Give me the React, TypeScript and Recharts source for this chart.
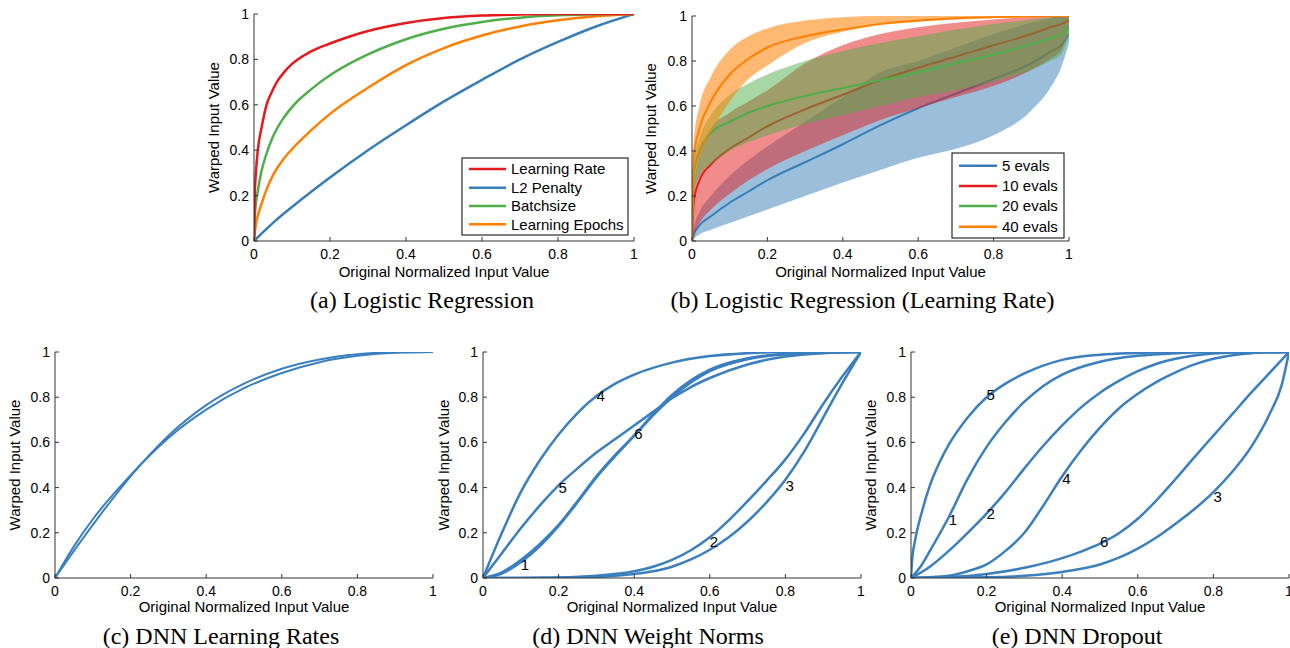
import React from 'react';
import { ComposedChart, Line, Area, XAxis, YAxis, ReferenceDot } from 'recharts';

const FONT = '"Liberation Sans", Arial, Helvetica, sans-serif';
const SERIF = '"Liberation Serif", "Times New Roman", serif';
const AXIS = '#333333';
const BLUE = '#377eb8';
const RED = '#e41a1c';
const GREEN = '#4daf4a';
const ORANGE = '#ff7f00';
const LINE_BLUE = '#3a7fbf';

type Pt = [number, number];

const TICKS = [0, 0.2, 0.4, 0.6, 0.8, 1];

// ---------- (a) Logistic Regression ----------
const aLearningRate: Pt[] = [[0, 0], [0.002, 0.2], [0.005, 0.3], [0.01, 0.4], [0.02, 0.5], [0.033, 0.6], [0.045, 0.65], [0.06, 0.7], [0.08, 0.745], [0.1, 0.78], [0.15, 0.835], [0.2, 0.87], [0.25, 0.9], [0.3, 0.925], [0.4, 0.96], [0.5, 0.982], [0.6, 0.993], [0.7, 0.998], [0.8, 1], [1, 1]];
const aL2Penalty: Pt[] = [[0, 0], [0.05, 0.08], [0.1, 0.15], [0.2, 0.28], [0.3, 0.4], [0.4, 0.51], [0.5, 0.615], [0.6, 0.71], [0.7, 0.8], [0.8, 0.877], [0.9, 0.945], [1, 1]];
const aBatchsize: Pt[] = [[0, 0], [0.003, 0.13], [0.01, 0.22], [0.02, 0.31], [0.03, 0.37], [0.05, 0.46], [0.075, 0.535], [0.1, 0.59], [0.15, 0.668], [0.2, 0.73], [0.25, 0.78], [0.3, 0.822], [0.35, 0.858], [0.4, 0.889], [0.5, 0.935], [0.6, 0.965], [0.7, 0.984], [0.8, 0.994], [0.9, 0.999], [1, 1]];
const aEpochs: Pt[] = [[0, 0], [0.005, 0.075], [0.01, 0.11], [0.02, 0.165], [0.035, 0.235], [0.05, 0.29], [0.075, 0.355], [0.1, 0.405], [0.15, 0.487], [0.2, 0.56], [0.3, 0.675], [0.4, 0.775], [0.5, 0.85], [0.6, 0.905], [0.7, 0.945], [0.8, 0.972], [0.9, 0.99], [1, 1]];

// ---------- (b) Logistic Regression (Learning Rate) ----------
const xB = [0, 0.005, 0.02, 0.05, 0.1, 0.15, 0.2, 0.3, 0.4, 0.5, 0.6, 0.7, 0.8, 0.9, 0.95, 0.98, 1];
const e5Lo = [0, 0.01, 0.03, 0.05, 0.08, 0.11, 0.14, 0.2, 0.26, 0.316, 0.37, 0.41, 0.47, 0.58, 0.68, 0.775, 0.88];
const e5Mid = [0, 0.03, 0.07, 0.11, 0.17, 0.22, 0.27, 0.35, 0.43, 0.515, 0.59, 0.655, 0.72, 0.79, 0.84, 0.87, 0.92];
const e5Hi = [0, 0.06, 0.13, 0.2, 0.29, 0.36, 0.42, 0.53, 0.64, 0.75, 0.8, 0.86, 0.92, 0.97, 0.99, 1, 1];
const e10Lo = [0, 0.03, 0.08, 0.14, 0.21, 0.27, 0.32, 0.4, 0.47, 0.538, 0.59, 0.64, 0.69, 0.76, 0.81, 0.85, 0.95];
const e10Mid = [0, 0.18, 0.27, 0.34, 0.41, 0.46, 0.51, 0.585, 0.65, 0.715, 0.77, 0.82, 0.87, 0.92, 0.95, 0.965, 0.98];
const e10Hi = [0, 0.25, 0.38, 0.5, 0.57, 0.62, 0.67, 0.79, 0.87, 0.92, 0.95, 0.97, 0.985, 0.995, 1, 1, 1];
const e20Lo = [0, 0.22, 0.29, 0.34, 0.4, 0.44, 0.47, 0.52, 0.56, 0.6, 0.64, 0.67, 0.71, 0.76, 0.8, 0.83, 0.92];
const e20Mid = [0, 0.3, 0.4, 0.48, 0.53, 0.57, 0.6, 0.645, 0.68, 0.715, 0.75, 0.79, 0.83, 0.875, 0.9, 0.92, 0.95];
const e20Hi = [0, 0.36, 0.46, 0.56, 0.65, 0.7, 0.74, 0.8, 0.845, 0.88, 0.91, 0.94, 0.965, 0.985, 0.995, 1, 1];
const e40Lo = [0, 0.28, 0.37, 0.48, 0.62, 0.72, 0.78, 0.88, 0.93, 0.96, 0.975, 0.985, 0.99, 0.997, 1, 1, 1];
const e40Mid = [0, 0.38, 0.5, 0.62, 0.74, 0.81, 0.86, 0.91, 0.94, 0.965, 0.98, 0.99, 0.995, 0.998, 1, 1, 1];
const e40Hi = [0, 0.45, 0.6, 0.73, 0.85, 0.91, 0.945, 0.98, 0.995, 1, 1, 1, 1, 1, 1, 1, 1];

// ---------- (c) DNN Learning Rates ----------
const c1: Pt[] = [[0, 0], [0.05, 0.14], [0.1, 0.26], [0.2, 0.455], [0.3, 0.62], [0.4, 0.745], [0.5, 0.84], [0.6, 0.907], [0.7, 0.955], [0.8, 0.983], [0.9, 0.997], [1, 1]];
const c2: Pt[] = [[0, 0], [0.05, 0.12], [0.1, 0.235], [0.2, 0.45], [0.3, 0.63], [0.4, 0.765], [0.5, 0.86], [0.6, 0.926], [0.7, 0.967], [0.8, 0.99], [0.9, 0.999], [1, 1]];

// ---------- (d) DNN Weight Norms ----------
const d1: Pt[] = [[0, 0], [0.05, 0.025], [0.1, 0.08], [0.15, 0.15], [0.2, 0.235], [0.25, 0.34], [0.3, 0.45], [0.35, 0.545], [0.4, 0.63], [0.45, 0.72], [0.5, 0.8], [0.55, 0.865], [0.6, 0.915], [0.7, 0.968], [0.8, 0.99], [0.9, 0.999], [1, 1]];
const d2: Pt[] = [[0, 0], [0.1, 0], [0.2, 0.002], [0.3, 0.01], [0.4, 0.03], [0.45, 0.05], [0.5, 0.08], [0.55, 0.123], [0.6, 0.18], [0.65, 0.255], [0.7, 0.34], [0.75, 0.43], [0.8, 0.525], [0.85, 0.64], [0.9, 0.77], [0.95, 0.89], [1, 1]];
const d3: Pt[] = [[0, 0], [0.2, 0.001], [0.3, 0.005], [0.4, 0.018], [0.45, 0.03], [0.5, 0.05], [0.55, 0.082], [0.6, 0.125], [0.65, 0.18], [0.7, 0.25], [0.75, 0.335], [0.8, 0.435], [0.85, 0.56], [0.9, 0.71], [0.95, 0.86], [1, 1]];
const d4: Pt[] = [[0, 0], [0.05, 0.2], [0.1, 0.38], [0.15, 0.52], [0.2, 0.635], [0.25, 0.73], [0.3, 0.805], [0.35, 0.86], [0.4, 0.9], [0.5, 0.953], [0.6, 0.982], [0.7, 0.995], [0.8, 1], [1, 1]];
const d5: Pt[] = [[0, 0], [0.05, 0.11], [0.1, 0.22], [0.15, 0.32], [0.2, 0.41], [0.25, 0.485], [0.3, 0.555], [0.35, 0.615], [0.4, 0.675], [0.45, 0.735], [0.5, 0.795], [0.55, 0.845], [0.6, 0.885], [0.7, 0.945], [0.8, 0.98], [0.9, 0.995], [1, 1]];
const d6: Pt[] = [[0, 0], [0.05, 0.02], [0.1, 0.07], [0.15, 0.14], [0.2, 0.23], [0.25, 0.335], [0.3, 0.445], [0.35, 0.54], [0.4, 0.63], [0.45, 0.725], [0.5, 0.81], [0.55, 0.875], [0.6, 0.922], [0.7, 0.972], [0.8, 0.992], [0.9, 0.999], [1, 1]];
const dLabels: [string, number, number][] = [['1', 0.1, 0.06], ['2', 0.6, 0.162], ['3', 0.8, 0.41], ['4', 0.3, 0.808], ['5', 0.2, 0.4], ['6', 0.4, 0.64]];

// ---------- (e) DNN Dropout ----------
const f1: Pt[] = [[0, 0], [0.025, 0.05], [0.05, 0.12], [0.1, 0.27], [0.15, 0.44], [0.2, 0.58], [0.25, 0.69], [0.3, 0.78], [0.35, 0.85], [0.4, 0.9], [0.5, 0.957], [0.6, 0.983], [0.7, 0.995], [0.8, 1], [1, 1]];
const f2: Pt[] = [[0, 0], [0.05, 0.05], [0.1, 0.12], [0.15, 0.2], [0.2, 0.285], [0.25, 0.38], [0.3, 0.485], [0.35, 0.585], [0.4, 0.675], [0.45, 0.755], [0.5, 0.82], [0.55, 0.872], [0.6, 0.915], [0.65, 0.948], [0.7, 0.97], [0.8, 0.993], [0.9, 1], [1, 1]];
const f3: Pt[] = [[0, 0], [0.2, 0.003], [0.3, 0.01], [0.4, 0.027], [0.5, 0.06], [0.55, 0.09], [0.6, 0.13], [0.65, 0.18], [0.7, 0.24], [0.75, 0.305], [0.8, 0.38], [0.85, 0.47], [0.9, 0.58], [0.95, 0.73], [0.98, 0.85], [1, 1]];
const f4: Pt[] = [[0, 0], [0.1, 0.01], [0.15, 0.03], [0.2, 0.06], [0.25, 0.12], [0.3, 0.2], [0.35, 0.32], [0.4, 0.45], [0.45, 0.565], [0.5, 0.665], [0.55, 0.75], [0.6, 0.815], [0.65, 0.868], [0.7, 0.91], [0.75, 0.945], [0.8, 0.97], [0.85, 0.986], [0.9, 0.995], [1, 1]];
const f5: Pt[] = [[0, 0], [0.003, 0.08], [0.01, 0.16], [0.03, 0.3], [0.05, 0.41], [0.075, 0.51], [0.1, 0.59], [0.15, 0.71], [0.2, 0.8], [0.25, 0.86], [0.3, 0.905], [0.4, 0.965], [0.5, 0.988], [0.6, 0.996], [0.7, 1], [1, 1]];
const f6: Pt[] = [[0, 0], [0.1, 0.004], [0.2, 0.018], [0.3, 0.045], [0.4, 0.088], [0.45, 0.117], [0.5, 0.152], [0.55, 0.198], [0.6, 0.262], [0.65, 0.345], [0.7, 0.438], [0.75, 0.535], [0.8, 0.63], [0.85, 0.725], [0.9, 0.82], [0.95, 0.91], [1, 1]];
const fLabels: [string, number, number][] = [['5', 0.2, 0.81], ['1', 0.1, 0.26], ['2', 0.2, 0.285], ['4', 0.4, 0.44], ['6', 0.5, 0.16], ['3', 0.8, 0.36]];

// ---------- helpers ----------
function merge(series: { key: string; pts: Pt[] }[]) {
  const rows: any[] = [];
  series.forEach((s) => s.pts.forEach(([x, y]) => rows.push({ x, [s.key]: y })));
  rows.sort((a, b) => a.x - b.x);
  return rows;
}

const dataA = merge([
  { key: 'lr', pts: aLearningRate },
  { key: 'l2', pts: aL2Penalty },
  { key: 'bs', pts: aBatchsize },
  { key: 'ep', pts: aEpochs },
]);
const dataB = xB.map((x, i) => ({
  x,
  b5: [e5Lo[i], e5Hi[i]], m5: e5Mid[i],
  b10: [e10Lo[i], e10Hi[i]], m10: e10Mid[i],
  b20: [e20Lo[i], e20Hi[i]], m20: e20Mid[i],
  b40: [e40Lo[i], e40Hi[i]], m40: e40Mid[i],
}));
const dataC = merge([{ key: 'c1', pts: c1 }, { key: 'c2', pts: c2 }]);
const dataD = merge([
  { key: 'd1', pts: d1 }, { key: 'd2', pts: d2 }, { key: 'd3', pts: d3 },
  { key: 'd4', pts: d4 }, { key: 'd5', pts: d5 }, { key: 'd6', pts: d6 },
]);
const dataE = merge([
  { key: 'f1', pts: f1 }, { key: 'f2', pts: f2 }, { key: 'f3', pts: f3 },
  { key: 'f4', pts: f4 }, { key: 'f5', pts: f5 }, { key: 'f6', pts: f6 },
]);

const XTick = (p: any) => {
  const { x, y, payload } = p;
  return (
    <g>
      <line x1={x} x2={x} y1={y} y2={y - 4} stroke={AXIS} strokeWidth={1} />
      <text x={x} y={y + 18} textAnchor="middle" fontSize={14} fontFamily={FONT} fill="#000">{String(payload.value)}</text>
    </g>
  );
};
const YTick = (p: any) => {
  const { x, y, payload } = p;
  return (
    <g>
      <line x1={x} x2={x + 4} y1={y} y2={y} stroke={AXIS} strokeWidth={1} />
      <text x={x - 5} y={y + 5} textAnchor="end" fontSize={14} fontFamily={FONT} fill="#000">{String(payload.value)}</text>
    </g>
  );
};

const ML = 60, MR = 12, MT = 12, MB = 40;

function Panel({ pl, pr, pt, pb, data, children }: { pl: number; pr: number; pt: number; pb: number; data: any[]; children: any }) {
  return (
    <div style={{ position: 'absolute', left: pl - ML, top: pt - MT }}>
      <ComposedChart width={pr - pl + ML + MR} height={pb - pt + MT + MB} data={data} margin={{ top: MT, right: MR, bottom: 0, left: 0 }}>
        <XAxis dataKey="x" type="number" domain={[0, 1]} ticks={TICKS} allowDataOverflow interval={0} height={MB}
          tickSize={0} tickMargin={0} tickLine={false} axisLine={{ stroke: AXIS, strokeWidth: 1 }} tick={(p: any) => <XTick {...p} />} />
        <YAxis type="number" domain={[0, 1]} ticks={TICKS} allowDataOverflow interval={0} width={ML}
          tickSize={0} tickMargin={0} tickLine={false} axisLine={{ stroke: AXIS, strokeWidth: 1 }} tick={(p: any) => <YTick {...p} />} />
        {children}
      </ComposedChart>
    </div>
  );
}

const lineProps = { type: 'monotone' as const, dot: false, activeDot: false, connectNulls: true, isAnimationActive: false };

function numLabels(list: [string, number, number][]) {
  return list.map(([t, x, y]) => (
    <ReferenceDot key={'l' + t + x} x={x} y={y} r={0} fill="none" stroke="none"
      label={{ value: t, position: 'right', offset: 0, fontSize: 15, fill: '#000', fontFamily: FONT }} />
  ));
}

const legendA: [string, string][] = [['Learning Rate', RED], ['L2 Penalty', BLUE], ['Batchsize', GREEN], ['Learning Epochs', ORANGE]];
const legendAY = [169, 187.7, 206, 224.3];
const legendB: [string, string][] = [['5 evals', BLUE], ['10 evals', RED], ['20 evals', GREEN], ['40 evals', ORANGE]];
const legendBY = [165.7, 186, 206, 226.7];

const yLabels: [number, number][] = [[218.5, 127.5], [656, 128.5], [20, 465], [448.5, 465], [876, 465]];
const xLabels: [number, number][] = [[444, 276.5], [880.5, 277], [244, 612], [672, 612], [1100, 612]];
const captions: [string, number, number][] = [
  ['(a) Logistic Regression', 422, 308],
  ['(b) Logistic Regression (Learning Rate)', 862.5, 308],
  ['(c) DNN Learning Rates', 221, 644],
  ['(d) DNN Weight Norms', 648, 644],
  ['(e) DNN Dropout', 1077, 644],
];

export default function App() {
  return (
    <div style={{ position: 'absolute', left: 0, top: 0, width: 1290, height: 648, overflow: 'hidden', background: '#fff' }}>
      <Panel pl={254} pr={634} pt={14} pb={241} data={dataA}>
        <Line dataKey="l2" stroke={BLUE} strokeWidth={2.5} {...lineProps} />
        <Line dataKey="ep" stroke={ORANGE} strokeWidth={2.5} {...lineProps} />
        <Line dataKey="bs" stroke={GREEN} strokeWidth={2.5} {...lineProps} />
        <Line dataKey="lr" stroke={RED} strokeWidth={2.5} {...lineProps} />
      </Panel>

      <Panel pl={692} pr={1069} pt={16} pb={241} data={dataB}>
        <Area dataKey="b5" type="monotone" stroke="none" fill={BLUE} fillOpacity={0.5} isAnimationActive={false} />
        <Area dataKey="m5" type="monotone" stroke={BLUE} strokeWidth={2} fill="none" isAnimationActive={false} />
        <Area dataKey="b10" type="monotone" stroke="none" fill={RED} fillOpacity={0.5} isAnimationActive={false} />
        <Area dataKey="m10" type="monotone" stroke={RED} strokeWidth={2} fill="none" isAnimationActive={false} />
        <Area dataKey="b20" type="monotone" stroke="none" fill={GREEN} fillOpacity={0.5} isAnimationActive={false} />
        <Area dataKey="m20" type="monotone" stroke={GREEN} strokeWidth={2} fill="none" isAnimationActive={false} />
        <Area dataKey="b40" type="monotone" stroke="none" fill={ORANGE} fillOpacity={0.55} isAnimationActive={false} />
        <Area dataKey="m40" type="monotone" stroke={ORANGE} strokeWidth={2} fill="none" isAnimationActive={false} />
      </Panel>

      <Panel pl={55} pr={433} pt={352} pb={578} data={dataC}>
        <Line dataKey="c1" stroke={LINE_BLUE} strokeWidth={2} {...lineProps} />
        <Line dataKey="c2" stroke={LINE_BLUE} strokeWidth={2} {...lineProps} />
      </Panel>

      <Panel pl={483} pr={861} pt={352} pb={578} data={dataD}>
        {['d1', 'd2', 'd3', 'd4', 'd5', 'd6'].map((k) => (
          <Line key={k} dataKey={k} stroke={LINE_BLUE} strokeWidth={2.5} {...lineProps} />
        ))}
        {numLabels(dLabels)}
      </Panel>

      <Panel pl={911} pr={1289} pt={352} pb={578} data={dataE}>
        {['f1', 'f2', 'f3', 'f4', 'f5', 'f6'].map((k) => (
          <Line key={k} dataKey={k} stroke={LINE_BLUE} strokeWidth={2.5} {...lineProps} />
        ))}
        {numLabels(fLabels)}
      </Panel>

      <svg width={1290} height={648} style={{ position: 'absolute', left: 0, top: 0, pointerEvents: 'none' }}>
        <rect x={462} y={158} width={166} height={77} fill="#fff" stroke="#000" strokeWidth={1} />
        {legendA.map(([t, c], i) => (
          <g key={t}>
            <line x1={469} x2={506} y1={legendAY[i]} y2={legendAY[i]} stroke={c} strokeWidth={2.5} />
            <text x={511} y={legendAY[i] + 5.4} fontSize={15} fontFamily={FONT} fill="#000">{t}</text>
          </g>
        ))}
        <rect x={952} y={153} width={112} height={85} fill="#fff" stroke="#000" strokeWidth={1} />
        {legendB.map(([t, c], i) => (
          <g key={t}>
            <line x1={959} x2={997} y1={legendBY[i]} y2={legendBY[i]} stroke={c} strokeWidth={2.5} />
            <text x={1002} y={legendBY[i] + 5.4} fontSize={15} fontFamily={FONT} fill="#000">{t}</text>
          </g>
        ))}
        {yLabels.map(([x, y], i) => (
          <text key={'y' + i} transform={`translate(${x},${y}) rotate(-90)`} textAnchor="middle" fontSize={15} fontFamily={FONT} fill="#000">Warped Input Value</text>
        ))}
        {xLabels.map(([x, y], i) => (
          <text key={'x' + i} x={x} y={y} textAnchor="middle" fontSize={15} fontFamily={FONT} fill="#000">Original Normalized Input Value</text>
        ))}
        {captions.map(([t, x, y]) => (
          <text key={t} x={x} y={y} textAnchor="middle" fontSize={24} fontFamily={SERIF} fill="#000">{t}</text>
        ))}
      </svg>
    </div>
  );
}
